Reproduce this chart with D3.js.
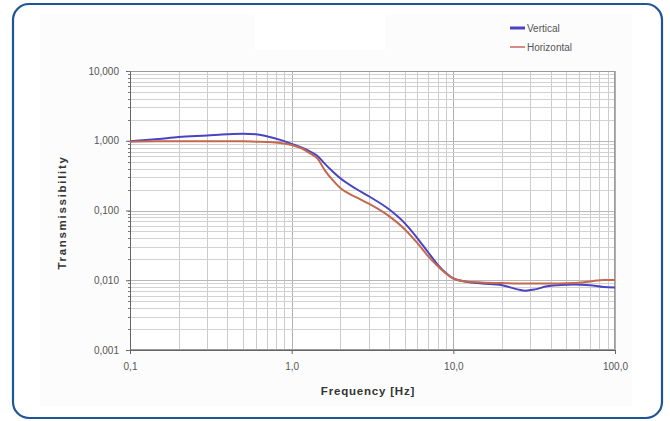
<!DOCTYPE html>
<html>
<head>
<meta charset="utf-8">
<script src="https://cdn.jsdelivr.net/npm/d3@7/dist/d3.min.js"></script>
<style>
  html, body { margin: 0; padding: 0; background: #ffffff; }
  svg { display: block; font-family: "Liberation Sans", Arial, sans-serif; }
</style>
</head>
<body>
<svg id="chart" width="670" height="421"></svg>
<script>
// ---- Data ----
const frequencies = [0.1, 0.15, 0.2, 0.3, 0.4, 0.5, 0.6, 0.7, 0.85, 1.0, 1.15, 1.3, 1.45, 1.6, 1.8, 2.0, 2.5, 3.0, 4.0, 5.0, 6.0, 7.0, 8.0, 9.0, 10, 12, 15, 20, 25, 28, 32, 38, 45, 55, 70, 85, 100];
const vertical = [0.98, 1.06, 1.13, 1.19, 1.24, 1.26, 1.24, 1.16, 1.03, 0.90, 0.80, 0.70, 0.60, 0.47, 0.36, 0.29, 0.205, 0.160, 0.104, 0.066, 0.040, 0.025, 0.0168, 0.0127, 0.0106, 0.0095, 0.0090, 0.0085, 0.0074, 0.0071, 0.0074, 0.0082, 0.0085, 0.0087, 0.0085, 0.0080, 0.0079];
const horizontal = [0.97, 0.98, 0.98, 0.98, 0.98, 0.98, 0.97, 0.96, 0.93, 0.87, 0.78, 0.66, 0.55, 0.38, 0.27, 0.21, 0.155, 0.125, 0.083, 0.054, 0.034, 0.022, 0.0160, 0.0125, 0.0106, 0.0096, 0.0093, 0.0091, 0.0090, 0.0090, 0.0090, 0.0090, 0.0090, 0.0091, 0.0096, 0.0101, 0.0101];
const seriesNames = ["Vertical", "Horizontal"];
const xTickValues = [0.1, 1, 10, 100];
const xTickLabels = ["0,1", "1,0", "10,0", "100,0"];
const yTickValues = [10, 1, 0.1, 0.01, 0.001];
const yTickLabels = ["10,000", "1,000", "0,100", "0,010", "0,001"];

// ---- Layout ----
const svg = d3.select("#chart");
const plot = { left: 130, right: 615, top: 71, bottom: 350 };

const x = d3.scaleLog().domain([0.1, 100]).range([plot.left, plot.right]);
const y = d3.scaleLog().domain([0.001, 10]).range([plot.bottom, plot.top]);

// outer rounded frame
svg.append("rect")
  .attr("x", 13).attr("y", 4).attr("width", 649).attr("height", 414)
  .attr("rx", 16).attr("ry", 16)
  .attr("fill", "#ffffff").attr("stroke", "#1f5596").attr("stroke-width", 2.2);

// subtle chart-area background
svg.append("rect")
  .attr("x", 40).attr("y", 14).attr("width", 592).attr("height", 392)
  .attr("fill", "#fcfcfc");
svg.append("rect")
  .attr("x", 255).attr("y", 14).attr("width", 130).attr("height", 36)
  .attr("fill", "#ffffff");

// plot background
svg.append("rect")
  .attr("x", plot.left).attr("y", plot.top)
  .attr("width", plot.right - plot.left).attr("height", plot.bottom - plot.top)
  .attr("fill", "#ffffff");

// minor + major grid values
const xGrid = [];
for (let e = -1; e <= 1; e++) for (let m = 1; m <= 9; m++) xGrid.push(m * Math.pow(10, e));
xGrid.push(100);
const yGrid = [];
for (let e = -3; e <= 0; e++) for (let m = 1; m <= 9; m++) yGrid.push(m * Math.pow(10, e));
yGrid.push(10);

const grid = svg.append("g");
grid.selectAll("line.vx").data(xGrid).enter().append("line")
  .attr("x1", d => Math.round(x(d)) + 0.5).attr("x2", d => Math.round(x(d)) + 0.5)
  .attr("y1", plot.top).attr("y2", plot.bottom)
  .attr("stroke", d => xTickValues.some(t => Math.abs(t - d) < 1e-9) ? "#b0b0b0" : "#cccccc")
  .attr("stroke-width", 1);
grid.selectAll("line.hy").data(yGrid).enter().append("line")
  .attr("x1", plot.left).attr("x2", plot.right)
  .attr("y1", d => Math.round(y(d)) + 0.5).attr("y2", d => Math.round(y(d)) + 0.5)
  .attr("stroke", d => yTickValues.some(t => Math.abs(t - d) < 1e-12) ? "#b8b8b8" : "#d2d2d2")
  .attr("stroke-width", 1);

// plot border
svg.append("rect")
  .attr("x", plot.left + 0.5).attr("y", plot.top + 0.5)
  .attr("width", plot.right - plot.left - 1).attr("height", plot.bottom - plot.top - 1)
  .attr("fill", "none").attr("stroke", "#9a9a9a").attr("stroke-width", 1);

// axes
const yAxis = d3.axisLeft(y).tickValues(yTickValues)
  .tickFormat((d, i) => yTickLabels[i]).tickSize(4).tickPadding(7);
const gy = svg.append("g").attr("transform", `translate(${plot.left},0)`).call(yAxis);
gy.select(".domain").attr("stroke", "#666");
gy.selectAll(".tick line").attr("stroke", "#666");
gy.selectAll("text").attr("fill", "#555").style("font-size", "10px");

// y minor ticks
svg.append("g").selectAll("line").data(yGrid).enter().append("line")
  .attr("x1", plot.left - 2).attr("x2", plot.left)
  .attr("y1", d => Math.round(y(d)) + 0.5).attr("y2", d => Math.round(y(d)) + 0.5)
  .attr("stroke", "#777");

const xAxis = d3.axisBottom(x).tickValues(xTickValues)
  .tickFormat((d, i) => xTickLabels[i]).tickSize(4).tickPadding(9);
const gx = svg.append("g").attr("transform", `translate(0,${plot.bottom})`).call(xAxis);
gx.select(".domain").attr("stroke", "#666");
gx.selectAll(".tick line").attr("stroke", "#666");
gx.selectAll("text").attr("fill", "#555").style("font-size", "10px");

// axis titles
svg.append("text")
  .attr("x", 368).attr("y", 395)
  .attr("text-anchor", "middle").attr("font-weight", "bold")
  .attr("font-size", "11.5px").attr("fill", "#333").attr("letter-spacing", "0.8px")
  .text("Frequency [Hz]");
svg.append("text")
  .attr("transform", `translate(66,${(plot.top + plot.bottom) / 2 + 2}) rotate(-90)`)
  .attr("text-anchor", "middle").attr("font-weight", "bold")
  .attr("font-size", "11.5px").attr("fill", "#333").attr("letter-spacing", "1.7px")
  .text("Transmissibility");

// lines
const colors = ["#4a44c4", "#c4684e"];
const seriesData = [vertical, horizontal];
const line = d3.line()
  .x((d, i) => x(frequencies[i]))
  .y(d => y(d))
  .curve(d3.curveMonotoneX);

svg.append("g").selectAll("path").data(seriesData).enter().append("path")
  .attr("d", d => line(d))
  .attr("fill", "none")
  .attr("stroke", (d, i) => colors[i])
  .attr("stroke-width", 2)
  .attr("stroke-linejoin", "round");

// legend
const legend = svg.append("g");
seriesNames.forEach((name, i) => {
  const ly = 28 + i * 19;
  legend.append("line")
    .attr("x1", 510).attr("x2", 525).attr("y1", ly).attr("y2", ly)
    .attr("stroke", i === 0 ? "#4a44c4" : "#d88a86").attr("stroke-width", i === 0 ? 3 : 2);
  legend.append("text")
    .attr("x", 527).attr("y", ly + 3.5)
    .attr("font-size", "10px").attr("fill", "#555")
    .text(name);
});
</script>
</body>
</html>
